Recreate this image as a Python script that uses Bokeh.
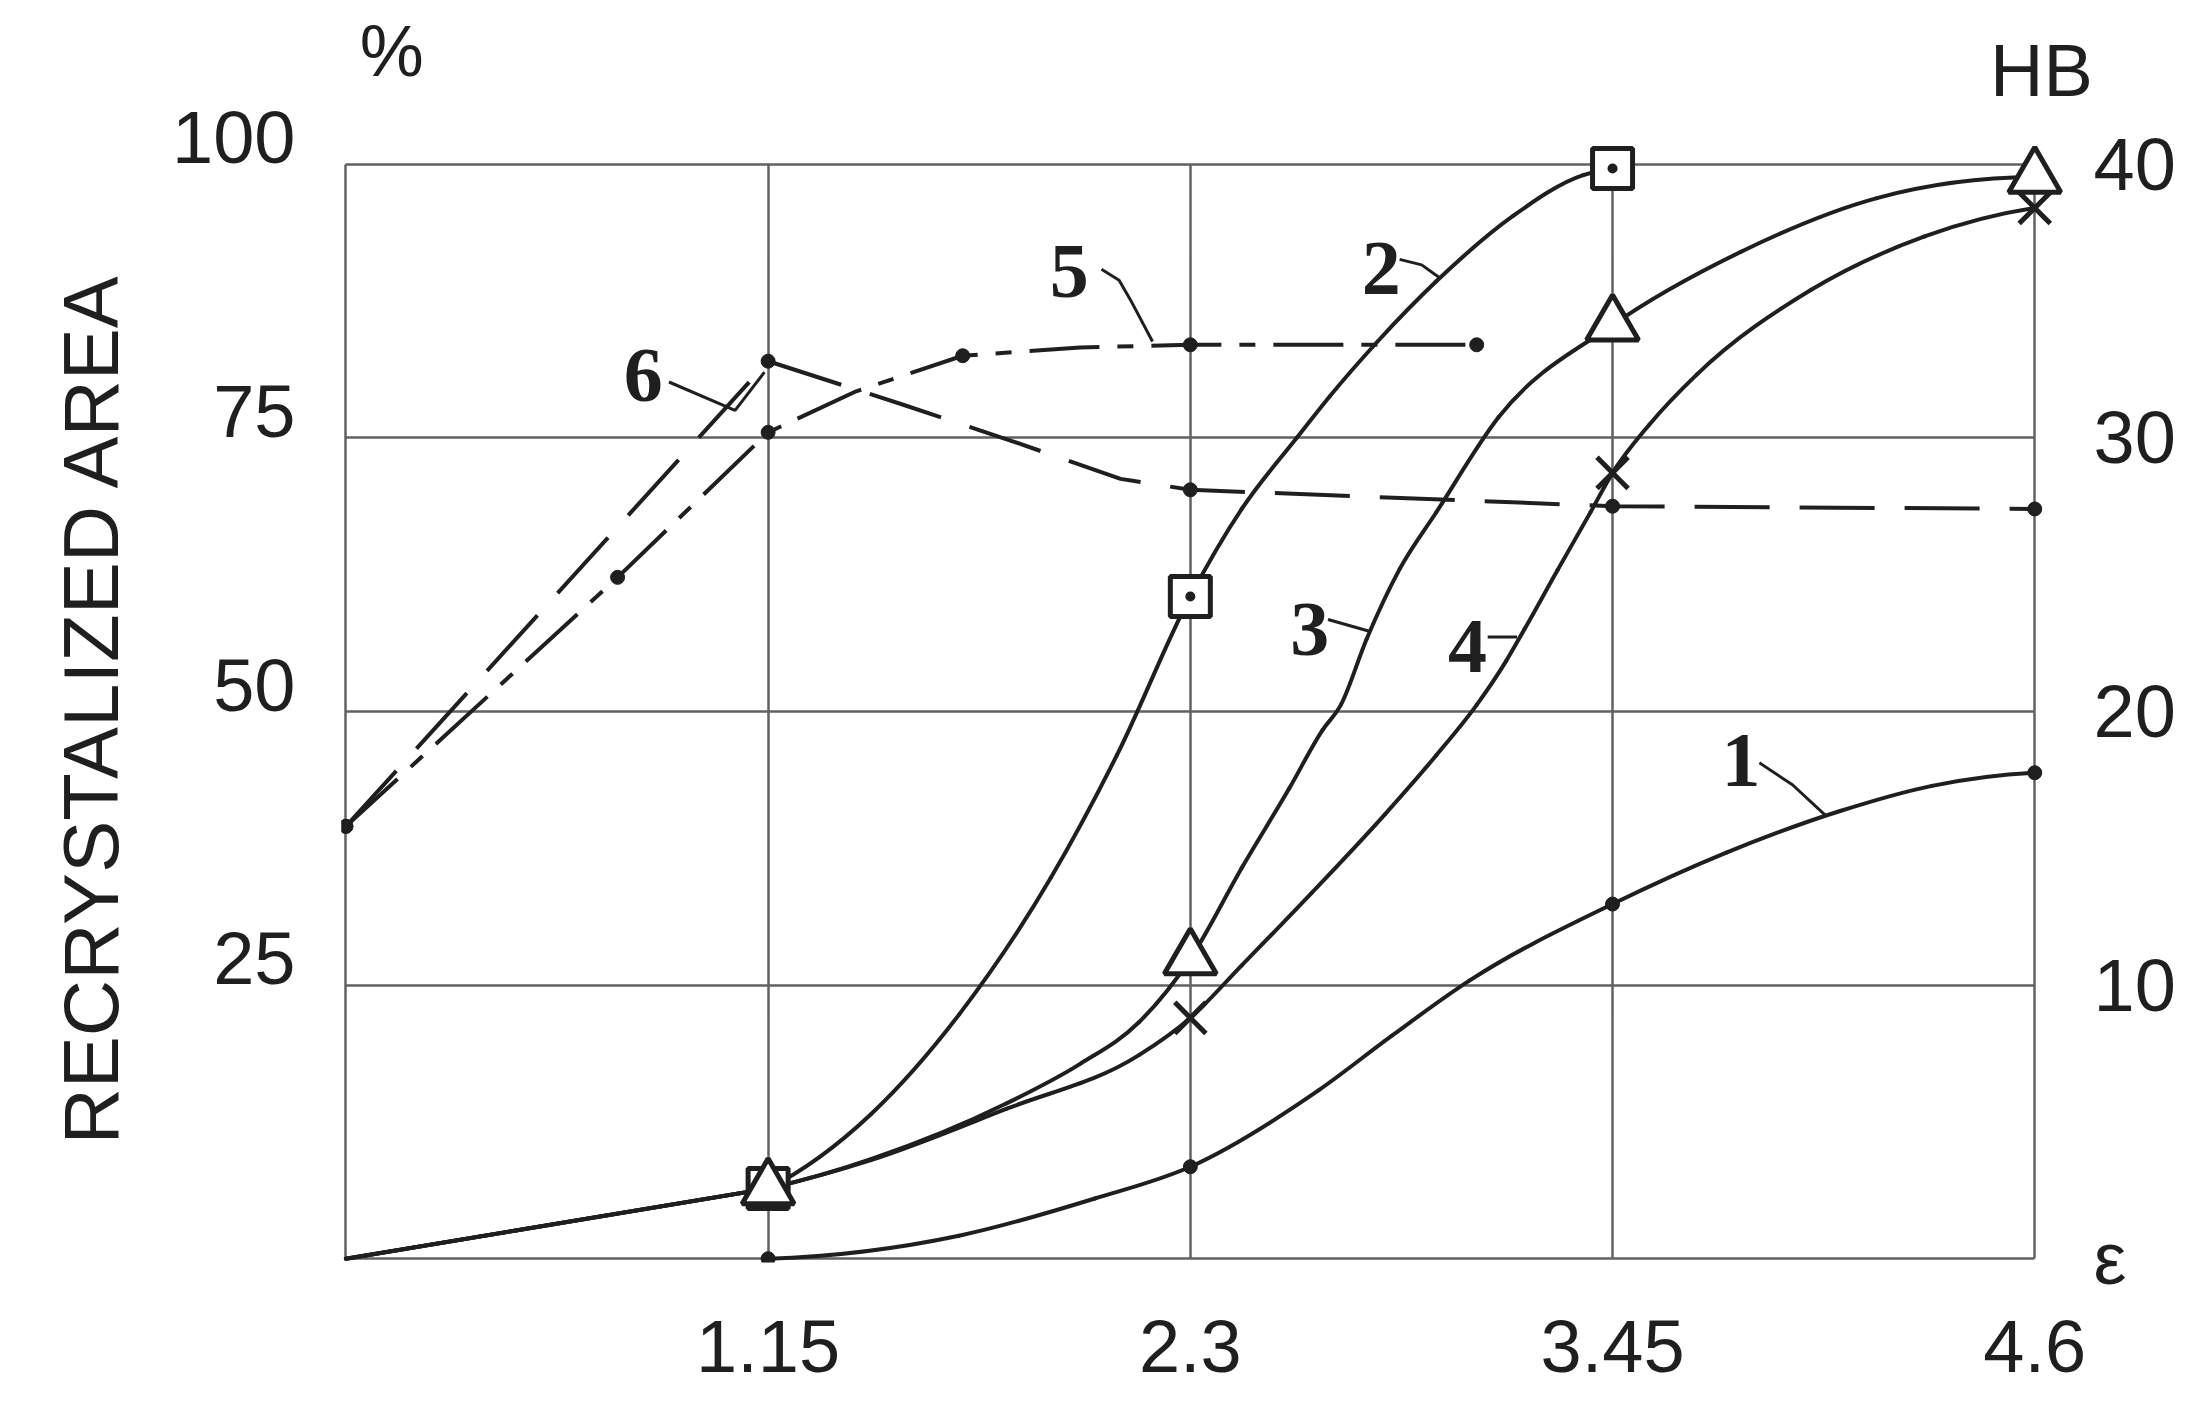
import numpy as np
from bokeh.plotting import figure
from bokeh.models import (Range1d, LinearAxis, FixedTicker, Label, LabelSet,
                          ColumnDataSource, Title)
from bokeh.core.properties import value
from bokeh.embed import file_html
from bokeh.resources import INLINE

# ---------------- data ----------------
x_ticks = [1.15, 2.3, 3.45, 4.6]
x_tick_labels = ["1.15", "2.3", "3.45", "4.6"]
area_ticks = [25, 50, 75, 100]
area_tick_labels = ["25", "50", "75", "100"]
hb_ticks = [0, 10, 20, 30, 40]
hb_tick_labels = ["ε", "10", "20", "30", "40"]

# curve 1 - recrystallized area, %
c1_x = [1.15, 1.67, 2.04, 2.30, 2.65, 2.85, 3.06, 3.45, 3.76, 4.07, 4.32, 4.60]
c1_y = [0.0, 2.1, 5.5, 8.4, 15.4, 20.4, 25.4, 32.4, 37.1, 40.9, 43.2, 44.4]
c1_mx = [1.15, 2.3, 3.45, 4.6]
c1_my = [0.0, 8.4, 32.4, 44.4]

# curve 2 - recrystallized area, %
c2_x = [0.0, 1.15, 1.43, 1.67, 1.92, 2.10, 2.30, 2.44, 2.59, 2.68, 2.81, 2.97, 3.18, 3.37, 3.45]
c2_y = [0.0, 6.4, 13.2, 22.3, 34.8, 46.0, 60.5, 68.5, 75.0, 78.8, 83.8, 89.3, 95.3, 99.0, 99.6]
c2_mx = [1.15, 2.3, 3.45]
c2_my = [6.4, 60.5, 99.6]

# curve 3 - recrystallized area, %
c3_x = [0.0, 1.15, 1.43, 1.80, 2.00, 2.16, 2.30, 2.44, 2.57, 2.66, 2.71, 2.78, 2.87, 2.97, 3.14, 3.45, 3.80, 4.17, 4.60]
c3_y = [0.0, 6.4, 9.1, 14.2, 17.8, 21.6, 27.4, 35.7, 43.0, 48.3, 50.6, 56.6, 63.0, 68.2, 76.9, 85.3, 92.0, 96.9, 98.8]
c3_mx = [1.15, 2.3, 3.45, 4.6]
c3_my = [6.4, 27.4, 85.3, 98.8]

# curve 4 - recrystallized area, %
c4_x = [0.0, 1.15, 1.43, 1.80, 2.16, 2.30, 2.44, 2.63, 2.83, 2.97, 3.08, 3.16, 3.21, 3.30, 3.39, 3.45, 3.55, 3.68, 3.99, 4.30, 4.60]
c4_y = [0.0, 6.4, 9.0, 13.7, 18.6, 22.0, 26.8, 33.4, 40.6, 46.0, 50.6, 54.6, 57.5, 62.9, 68.2, 71.8, 76.2, 80.8, 88.5, 93.4, 96.0]
c4_mx = [2.3, 3.45, 4.6]
c4_my = [22.0, 71.8, 96.0]

# curve 5 - hardness HB
c5_x = [0.0, 0.74, 1.15, 1.39, 1.68, 2.0, 2.3, 3.08]
c5_hb = [15.8, 24.9, 30.2, 31.7, 33.0, 33.3, 33.4, 33.4]
c5_mx = [0.0, 0.74, 1.15, 1.68, 2.3, 3.08]
c5_mhb = [15.8, 24.9, 30.2, 33.0, 33.4, 33.4]

# curve 6 - hardness HB
c6_x = [0.0, 1.15, 1.52, 1.81, 2.11, 2.3, 3.45, 4.6]
c6_hb = [15.8, 32.8, 31.2, 29.9, 28.5, 28.1, 27.5, 27.4]
c6_mx = [0.0, 1.15, 2.3, 3.45, 4.6]
c6_mhb = [15.8, 32.8, 28.1, 27.5, 27.4]

# curve number labels (annotation placement)
curve_names = ["1", "2", "3", "4", "5", "6"]
name_x = [3.80, 2.82, 2.625, 3.055, 1.97, 0.81]
name_y = [45.5, 90.5, 57.5, 55.9, 90.2, 80.7]
leader_xs = [[3.85, 3.94, 4.03], [2.87, 2.93, 2.98], [2.675, 2.79],
             [3.11, 3.19], [2.058, 2.106, 2.137, 2.197], [0.88, 1.06, 1.14]]
leader_ys = [[45.3, 43.3, 40.5], [91.3, 90.8, 89.6], [58.4, 57.3],
             [56.8, 56.8], [90.4, 89.4, 87.6, 83.8], [80.1, 77.5, 81.0]]

# ---------------- styling ----------------
INK = "#1f1f1f"
GRID = "#626262"
SANS = "Liberation Sans"
SERIF = "Liberation Serif"
TICK_FS = "74px"

X_END = 4.76      # a little room right of the grid box for the "HB" unit label
Y_END = 114.5     # room above the grid box for the unit labels
LBL_SHIFT = 2.4   # left tick labels sit on top of their grid lines
BOX_X = (0, 4.6)
BOX_Y = (0, 100)


def smooth_beziers(xs, ys, kinks=()):
    """Cubic Hermite pieces through the read points, as bezier control points."""
    xs = np.asarray(xs, dtype=float)
    ys = np.asarray(ys, dtype=float)
    n = len(xs)
    h = np.diff(xs)
    d = np.diff(ys) / h

    def end_slope(h1, d1, h2, d2):
        m = ((2 * h1 + h2) * d1 - h1 * d2) / (h1 + h2)
        if np.sign(m) != np.sign(d1):
            m = 0.0
        return m

    m_in = np.empty(n)
    m_out = np.empty(n)
    for i in range(n):
        if i == 0:
            m = end_slope(h[0], d[0], h[1], d[1]) if n > 2 else d[0]
        elif i == n - 1:
            m = end_slope(h[-1], d[-1], h[-2], d[-2]) if n > 2 else d[-1]
        else:
            m = (h[i] * d[i - 1] + h[i - 1] * d[i]) / (h[i - 1] + h[i])
        m_in[i] = m_out[i] = m
    for k in kinks:
        m_in[k] = d[k - 1]
        m_out[k - 1] = d[k - 1]
        if k + 1 < n - 1:
            m_out[k] = end_slope(h[k], d[k], h[k + 1], d[k + 1])
        else:
            m_out[k] = d[k]
    return dict(
        x0=xs[:-1], y0=ys[:-1], x1=xs[1:], y1=ys[1:],
        cx0=xs[:-1] + h / 3, cy0=ys[:-1] + m_out[:-1] * h / 3,
        cx1=xs[1:] - h / 3, cy1=ys[1:] - m_in[1:] * h / 3,
    )


Y0 = -0.35
X0 = -0.012
p = figure(width=2196, height=1403,
           x_range=Range1d(X0, X_END), y_range=Range1d(Y0, Y_END),
           output_backend="svg", toolbar_location=None, title=None,
           min_border_left=341, min_border_right=103,
           min_border_top=5, min_border_bottom=141)
p.extra_y_ranges = {
    "hb": Range1d(Y0 * 0.4, Y_END * 0.4),
    "lbl": Range1d(Y0 - LBL_SHIFT, Y_END - LBL_SHIFT),
}
p.background_fill_color = "white"
p.border_fill_color = "white"
p.outline_line_color = None

# grid box and grid lines, limited to the box
p.xgrid.ticker = FixedTicker(ticks=[BOX_X[0]] + x_ticks)
p.ygrid.ticker = FixedTicker(ticks=[BOX_Y[0]] + area_ticks)
for g in (p.xgrid, p.ygrid):
    g.grid_line_color = GRID
    g.grid_line_width = 2.5
try:
    p.xgrid.cross_bounds = BOX_Y
    p.ygrid.cross_bounds = BOX_X
except Exception:
    # older bokeh: draw the same grid lines as segments limited to the box
    p.xgrid.visible = False
    p.ygrid.visible = False
    gx = [BOX_X[0]] + x_ticks
    gy = [BOX_Y[0]] + area_ticks
    p.segment(x0=gx, x1=gx, y0=[BOX_Y[0]] * len(gx), y1=[BOX_Y[1]] * len(gx),
              line_color=GRID, line_width=2.5, level="underlay")
    p.segment(x0=[BOX_X[0]] * len(gy), x1=[BOX_X[1]] * len(gy), y0=gy, y1=gy,
              line_color=GRID, line_width=2.5, level="underlay")

# bottom axis
xa = p.xaxis[0]
xa.ticker = FixedTicker(ticks=x_ticks)
xa.major_label_overrides = dict(zip(x_ticks, x_tick_labels))
xa.major_label_text_font = SANS
xa.major_label_text_font_size = TICK_FS
xa.major_label_text_color = INK
xa.major_label_standoff = 58

# left axis (recrystallized area, %), labels drawn just above their grid lines
p.yaxis[0].visible = False
la = LinearAxis(y_range_name="lbl", ticker=FixedTicker(ticks=area_ticks))
la.major_label_overrides = dict(zip(area_ticks, area_tick_labels))
la.major_label_text_font = SANS
la.major_label_text_font_size = TICK_FS
la.major_label_text_color = INK
la.major_label_standoff = 46
p.add_layout(la, "left")

# left axis title, placed along the grid box as in the reference
p.add_layout(Title(text="RECRYSTALIZED AREA", align="left", offset=118, standoff=70,
                   text_font=SANS, text_font_size="78px", text_font_style="normal",
                   text_color=INK), "left")

# right axis: HB
ra = LinearAxis(y_range_name="hb", ticker=FixedTicker(ticks=hb_ticks))
ra.major_label_overrides = dict(zip(hb_ticks, hb_tick_labels))
ra.major_label_text_font = SANS
ra.major_label_text_font_size = TICK_FS
ra.major_label_text_color = INK
ra.major_label_standoff = 0
p.add_layout(ra, "right")

for ax in (xa, la, ra):
    ax.axis_line_color = None
    ax.major_tick_line_color = None
    ax.minor_tick_line_color = None
    ax.major_tick_in = 0
    ax.major_tick_out = 0

# unit labels above the grid box
p.add_layout(Label(x=0.125, y=110.3, text="%", text_align="center", text_baseline="middle",
                   text_font=SANS, text_font_size="72px", text_color=INK))
p.add_layout(Label(x=4.618, y=108.6, text="HB", text_align="center", text_baseline="middle",
                   text_font=SANS, text_font_size="74px", text_color=INK))

# curves 1-4 (smooth, solid)
p.bezier(line_color=INK, line_width=4, line_cap="round", **smooth_beziers(c1_x, c1_y))
p.bezier(line_color=INK, line_width=4, line_cap="round", **smooth_beziers(c2_x, c2_y, kinks=(1,)))
p.bezier(line_color=INK, line_width=4, line_cap="round", **smooth_beziers(c3_x, c3_y, kinks=(1,)))
p.bezier(line_color=INK, line_width=4, line_cap="round", **smooth_beziers(c4_x, c4_y, kinks=(1,)))

# curves 5, 6 (HB)
p.line(c5_x, c5_hb, y_range_name="hb", line_color=INK, line_width=4,
       line_dash="70 18 16 18")
p.line(c6_x, c6_hb, y_range_name="hb", line_color=INK, line_width=4,
       line_dash="75 30")

# markers
p.scatter(c1_mx, c1_my, marker="circle", size=14, fill_color=INK, line_color=INK)
p.scatter(c5_mx, c5_mhb, y_range_name="hb", marker="circle", size=14, fill_color=INK, line_color=INK)
p.scatter(c6_mx, c6_mhb, y_range_name="hb", marker="circle", size=14, fill_color=INK, line_color=INK)
p.scatter(c2_mx, c2_my, marker="square_dot", size=40, fill_color="white", line_color=INK, line_width=5)
p.scatter(c3_mx, c3_my, marker="triangle", size=52, fill_color="white", line_color=INK, line_width=5)
p.scatter(c4_mx, c4_my, marker="x", size=44, line_color=INK, line_width=5)

# curve numbers with leader strokes
p.multi_line(leader_xs, leader_ys, line_color=INK, line_width=3)
name_src = ColumnDataSource(dict(x=name_x, y=name_y, text=curve_names))
p.add_layout(LabelSet(x="x", y="y", text="text", source=name_src,
                      text_align="center", text_baseline="middle",
                      text_font=value(SERIF), text_font_style="bold",
                      text_font_size="78px", text_color=INK))

open("out.html", "w").write(file_html(p, INLINE))
